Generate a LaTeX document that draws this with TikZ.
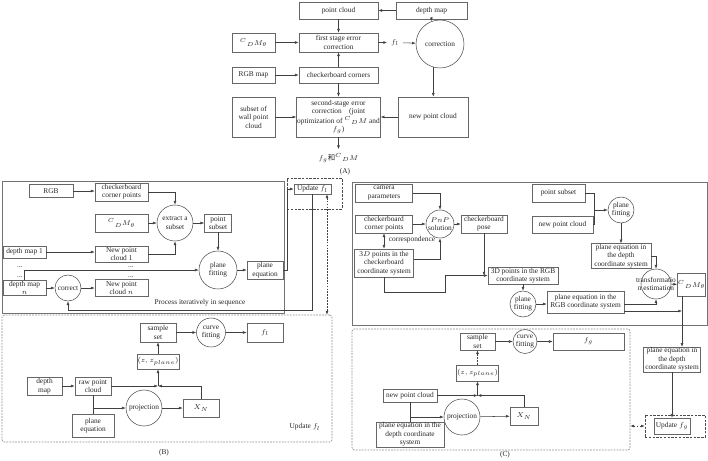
\documentclass[tikz,border=0pt]{standalone}
\usepackage{fontspec}
\setmainfont{Liberation Serif}
\newfontfamily\cjk{Noto Sans CJK SC}
\usetikzlibrary{arrows.meta,calc}
\newcommand{\CdM}{{}^{C}{}_{D}M}
\tikzset{
	wh/.style 2 args={minimum width=#1*0.3mm, minimum height=#2*0.3mm},
	box/.style={draw=black!60, fill=white, inner sep=0.5pt, align=center},
	circ/.style={circle, draw=black!70, fill=white, inner sep=-3pt, minimum size=#1*0.6mm, align=center},
	frame/.style={draw=black!55, line width=0.7pt},
	dframe/.style={draw=black!45, dash pattern=on 1.5pt off 1pt, line width=0.6pt, rounded corners=2pt},
	sframe/.style={draw=black!70, dash pattern=on 2pt off 1.2pt},
	dots/.style={inner sep=0pt, anchor=base},
	arr/.style={-{Latex[length=3.2pt,width=2.4pt]}},
	barr/.style={{Latex[length=3.2pt,width=2.4pt]}-{Latex[length=3.2pt,width=2.4pt]}},
	darr/.style={barr, dash pattern=on 1.5pt off 1pt}
}
\begin{document}
\begin{tikzpicture}
		[x=0.3mm, y=-0.3mm,
		font=\fontsize{6.3}{7.2}\selectfont,
		color=black!75, text=black!85, line width=0.45pt]
		\useasboundingbox (0,0) rectangle (708,460);
		
		\node[box, wh={79}{17}] (pcA) at (338.5,10.5) {point cloud};
		\node[box, wh={71}{17}] (dmA) at (431.5,10.5) {depth map};
		\node[box, wh={43}{19}] (cdmA) at (253.5,42.5) {$\CdM_\theta$};
		\node[box, wh={79}{19}] (fsA) at (338.5,42.5) {first stage error\\correction};
		\node (flA) at (395,42.5) {$f_l$};
		\node[circ=24] (corA) at (440,44) {correction};
		\node[box, wh={43}{16}] (rgbA) at (253.5,75) {RGB map};
		\node[box, wh={79}{16}] (ccA) at (338.5,75) {checkerboard corners};
		\node[box, wh={43}{40}] (subA) at (253.5,117) {subset of\\wall point\\cloud};
		\node[box, wh={79}{40}] (ssA) at (338.5,117) {second-stage error\\correction\quad(joint\\optimization of $\CdM$ and\\$f_g$)};
		\node[box, wh={70}{40}] (npA) at (433,117) {new point cloud};
		\node (outA) at (338.5,158) {$f_g${\cjk 和}$\CdM$};
		\node (labA) at (345,172) {(A)};
		\draw[arr] (dmA) -- (pcA);
		\draw[arr] (pcA) -- (fsA);
		\draw[arr] (cdmA) -- (fsA);
		\draw[arr] (fsA) -- (flA);
		\draw[arr] (flA) -- (corA);
		\draw[arr] (dmA.south) -- (corA.110);
		\draw[arr] (corA.254) -- (corA.254 |- npA.north);
		\draw[arr] (rgbA) -- (ccA);
		\draw[arr] (ccA) -- (fsA);
		\draw[arr] (ccA) -- (ssA);
		\draw[arr] (subA) -- (ssA);
		\draw[arr] (npA) -- (ssA);
		\draw[arr] (ssA) -- (outA);
		
		\node[frame, wh={282}{132}] (upB) at (143,247) {};
		\node[box, wh={44}{13}] (rgbB) at (51,191) {RGB};
		\node[box, wh={53}{18}] (ccB) at (121.5,192) {checkerboard\\corner points};
		\node[circ=18] (exB) at (175,223) {extract a\\subset};
		\node[box, wh={53}{18}] (cdmB) at (121.5,223) {$\CdM_\theta$};
		\node[box, wh={27}{18}] (psB) at (218,223) {point\\subset};
		\node[box, wh={43}{12}] (dm1B) at (24.5,252) {depth map 1};
		\node[box, wh={53}{16}] (np1B) at (121.5,254) {New point\\cloud 1};
		\node[dots] (dt1B) at (20,267) {...};
		\node[dots] (dt2B) at (20,277) {...};
		\node[dots] (dt3B) at (131,267) {...};
		\node[dots] (dt4B) at (131,277) {...};
		\node[circ=19] (pfB) at (218,270) {plane\\fitting};
		\node[box, wh={36}{18}] (peB) at (265,270) {plane\\equation};
		\node[box, wh={43}{15}] (dmnB) at (24.5,288) {depth map\\$n$};
		\node[circ=13] (coB) at (68,288) {correct};
		\node[box, wh={53}{17}] (npnB) at (121.5,288) {New point\\cloud $n$};
		\node (itB) at (200,303) {Process iteratively in sequence};
		\node[sframe, wh={55}{31}] (updfB) at (314.5,193.5) {};
		\node[box, wh={37}{10}] (updB) at (312.5,189) {Update $f_l$};
		\draw[arr] (rgbB) -- (rgbB -| ccB.west);
		\draw[arr] (ccB) -| (exB);
		\draw[arr] (cdmB) -- (exB);
		\draw[arr] (exB) -- (psB);
		\draw[arr] (dm1B) -- (dm1B -| np1B.west);
		\draw[arr] (np1B) -| (exB);
		\draw[arr] (dmnB) |- (pfB);
		\draw[arr] (psB) -- (pfB);
		\draw[arr] (pfB) -- (peB);
		\draw[arr] (dmnB) -- (coB);
		\draw[arr] (coB) -- (npnB);
		\draw[arr] (peB.east) -- ++(4,0) |- (updB);
		\draw[arr] (updB.south) -- ++(0,116) -| (coB.south);
		
		\node[dframe, wh={330}{127}] (lowB) at (167,378.5) {};
		\node (ufB) at (305,427) {Update $f_l$};
		\node[box, wh={36}{19}] (ssB) at (158,332.5) {sample\\set};
		\node[circ=14.5] (cfB) at (211,332.5) {curve\\fitting};
		\node[box, wh={36}{19}] (flB) at (265,332.5) {$f_l$};
		\node[box, wh={36}{15}] (zB) at (158,361.5) {$(z,z_{plane})$};
		\node[box, wh={35}{18}] (dmB) at (44.5,386) {depth\\map};
		\node[box, wh={36}{18}] (rpB) at (93,386) {raw point\\cloud};
		\node[circ=18] (prB) at (144,408) {projection};
		\node[box, wh={36}{18}] (xnB) at (201,408) {$X_N$};
		\node[box, wh={42}{23}] (pqB) at (93,425.5) {plane\\equation};
		\coordinate (jB) at (158,386);
		\draw[arr] (ssB) -- (cfB);
		\draw[arr] (cfB) -- (flB);
		\draw[arr] (zB) -- (ssB);
		\draw[arr] (dmB) -- (rpB);
		\draw[arr] (rpB) -- (jB);
		\draw[arr] (xnB) |- (jB);
		\draw[arr] (jB) -- (zB);
		\draw (rpB) -- (pqB);
		\draw[arr] (rpB.south |- prB) -- (prB);
		\draw[arr] (prB) -- (xnB);
		\coordinate (uB) at ($(updB.south)+(14.5,0)$);
		\draw[darr] (uB) -- (uB |- lowB.north);
		\node (labB) at (164,453) {(B)};
		
		\node[frame, wh={355}{143}] (upC) at (529.5,253.5) {};
		\node[box, wh={57}{18}] (camC) at (384,193) {camera\\parameters};
		\node[box, wh={57}{18}] (ccC) at (384,224) {checkerboard\\corner points};
		\node[circ=14] (pnpC) at (440,224) {$PnP$\\solution};
		\node[box, wh={46}{18}] (poseC) at (484,224) {checkerboard\\pose};
		\node (corrC) at (412,240) {correspondence};
		\node[box, wh={59}{28}] (tdC) at (384,263) {3$D$ points in the\\checkerboard\\coordinate system};
		\node[box, wh={70}{17}] (rgbC) at (523,275.5) {3D points in the RGB\\coordinate system};
		\node[circ=13] (pfC) at (523,304) {plane\\fitting};
		\node[box, wh={77}{22}] (peRC) at (585.5,302) {plane equation in the\\RGB coordinate system};
		\node[circ=15, inner sep=-7pt] (tfC) at (656,284) {transformatio\\n estimation};
		\node[box, wh={60}{24}] (peDC) at (621,256) {plane equation in\\the depth\\coordinate system};
		\node[box, wh={53}{18}] (psC) at (558.5,193) {point subset};
		\node[box, wh={61}{17}] (npC) at (562.5,224.5) {new point cloud};
		\node[circ=13] (pf2C) at (621,210) {plane\\fitting};
		\node[box, wh={23}{23}] (cdmC) at (691.5,284.5) {$\CdM_\theta$};
		\node[box, wh={57}{24}] (peDL) at (672,359.5) {plane equation in\\the depth\\coordinate system};
		\node[sframe, wh={60}{22}] (updfC) at (675,426) {};
		\node[box, wh={36}{16}] (updC) at (672,426) {Update $f_g$};
		\coordinate (jC) at (594,210);
		\coordinate (cdmout) at ($(cdmC.south)+(-9.5,0)$);
		\coordinate (rcl) at ($(peRC.east)+(0,9)$);
		\draw[arr] (camC) -| (pnpC);
		\draw[arr] (ccC) -- (pnpC);
		\draw[arr] (pnpC) -- (poseC);
		\draw[barr] (ccC) -- (tdC);
		\draw[arr] ($(tdC.east)+(0,-4)$) -| (pnpC);
		\draw[arr] (tdC) |- (445,292) |- (rgbC);
		\draw[arr] (poseC) -- (poseC |- rgbC.west);
		\draw[arr] (rgbC) -- (pfC);
		\draw[arr] (pfC) -- (pfC -| peRC.west);
		\draw[arr] ($(peRC.east)+(0,2)$) -| (tfC);
		\draw[arr] (tfC) -- (cdmC);
		\draw[arr] (peDC) -| (tfC);
		\draw (psC) -| (jC);
		\draw (npC) -| (jC);
		\draw[arr] (jC) -- (pf2C);
		\draw[arr] (pf2C) -- (peDC);
		\draw[arr] (cdmout) -- (cdmout |- peDL.north);
		\draw[arr] (rcl) -- (rcl -| cdmout);
		\draw[arr] (peDL) -- (updC);
		
		\node[dframe, wh={278}{121}] (lowC) at (491,389.5) {};
		\node[box, wh={35}{17}] (ssC) at (477.5,341.5) {sample\\set};
		\node[circ=12] (cfC) at (525,341.5) {curve\\fitting};
		\node[box, wh={71}{17}] (fgC) at (588.5,341.5) {$f_g$};
		\node[box, wh={35}{16}] (zC) at (477.5,373) {$(z,z_{plane})$};
		\node[box, wh={54}{13}] (npC2) at (410,395.5) {new point cloud};
		\node[circ=18] (prC) at (462,417) {projection};
		\node[box, wh={28}{18}] (xnC) at (524,416) {$X_N$};
		\node[box, wh={68}{25}] (peC2) at (410,434.5) {plane equation in the\\depth coordinate\\system};
		\coordinate (jC2) at (477.5,395.5);
		\draw[arr] (ssC) -- (cfC);
		\draw[arr] (cfC) -- (fgC);
		\draw[arr, dash pattern=on 1.5pt off 1pt] (zC) -- (ssC);
		\draw[arr] (npC2) -- (jC2);
		\draw[arr] (xnC) |- (jC2);
		\draw[arr] (jC2) -- (zC);
		\draw (npC2) -- (peC2);
		\draw[arr] (npC2.south |- prC) -- (prC);
		\draw[arr] (prC) -- (xnC);
		\draw[darr] (updfC.west) -- (updfC.west -| lowC.east);
		\node (labC) at (505,455) {(C)};
	\end{tikzpicture}
\end{document}
